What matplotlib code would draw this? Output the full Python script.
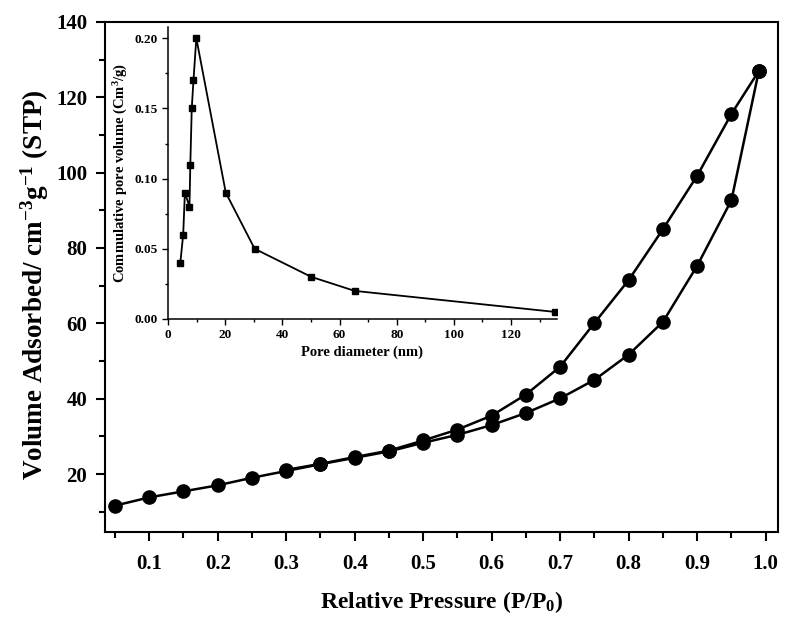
import matplotlib
matplotlib.use("Agg")
import matplotlib.pyplot as plt
from matplotlib.ticker import MultipleLocator

plt.rcParams["font.family"] = ["Liberation Serif", "DejaVu Serif"]
plt.rcParams["font.weight"] = "bold"
plt.rcParams["mathtext.fontset"] = "custom"
plt.rcParams["mathtext.rm"] = "Liberation Serif:bold"
plt.rcParams["mathtext.it"] = "Liberation Serif:bold"
plt.rcParams["mathtext.bf"] = "Liberation Serif:bold"

# isotherm: adsorption (lower) and desorption (upper) branches
p_ads = [0.05, 0.10, 0.15, 0.20, 0.25, 0.30, 0.35, 0.40, 0.45, 0.50,
         0.55, 0.60, 0.65, 0.70, 0.75, 0.80, 0.85, 0.90, 0.95, 0.99]
v_ads = [11.6, 13.8, 15.4, 17.0, 19.0, 20.8, 22.6, 24.3, 26.0, 28.3,
         30.4, 33.0, 36.2, 40.1, 45.0, 51.7, 60.4, 75.3, 92.7, 127.0]
p_des = [0.99, 0.95, 0.90, 0.85, 0.80, 0.75, 0.70, 0.65, 0.60, 0.55,
         0.50, 0.45, 0.40, 0.35, 0.30]
v_des = [127.0, 115.6, 99.2, 85.0, 71.5, 60.1, 48.5, 41.1, 35.5, 31.8,
         28.9, 26.2, 24.5, 22.7, 21.1]

# inset: pore volume vs pore diameter
pore_d = [4.3, 5.3, 5.9, 7.5, 7.8, 8.3, 8.9, 9.9, 20.2, 30.3, 50.1, 65.3, 135.5]
pore_v = [0.040, 0.060, 0.090, 0.080, 0.110, 0.150, 0.170, 0.200, 0.090,
          0.050, 0.030, 0.020, 0.005]

fig = plt.figure(figsize=(7.87, 6.19), dpi=100)
ax = fig.add_axes([0.133, 0.1405, 0.8556, 0.824])

ax.plot(p_ads, v_ads, color="black", lw=1.8, marker="o", ms=9.5)
ax.plot(p_des, v_des, color="black", lw=1.8, marker="o", ms=9.5)

ax.set_xlim(0.035, 1.018)
ax.set_ylim(4.6, 140)
ax.xaxis.set_minor_locator(MultipleLocator(0.05))
ax.yaxis.set_minor_locator(MultipleLocator(10))
ax.set_yticks([20, 40, 60, 80, 100, 120, 140])
ax.set_xticks([0.1, 0.2, 0.3, 0.4, 0.5, 0.6, 0.7, 0.8, 0.9, 1.0])
ax.set_xticklabels(["0.1", "0.2", "0.3", "0.4", "0.5", "0.6", "0.7", "0.8", "0.9", "1.0"])
ax.tick_params(which="major", direction="out", length=6.5, width=1.5, labelsize=15)
ax.tick_params(axis="x", which="major", pad=9)
ax.tick_params(axis="y", which="major", pad=6)
ax.tick_params(which="minor", direction="out", length=4, width=1.5)
for s in ax.spines.values():
    s.set_linewidth(1.5)

ax.set_xlabel(r"Relative Pressure (P/P$_0$)", fontsize=17, fontweight="bold", labelpad=11)
ax.set_ylabel(r"Volume Adsorbed/ cm$^{-3}$g$^{-1}$ (STP)", fontsize=19.5,
              fontweight="bold", labelpad=4)
ax.yaxis.label.set_y(0.485)

# inset
ins = fig.add_axes([0.2135, 0.4847, 0.494, 0.4717])
ins.plot(pore_d, pore_v, color="black", lw=1.3, marker="s", ms=5)
ins.set_xlim(0, 136)
ins.set_ylim(0, 0.208)
ins.xaxis.set_minor_locator(MultipleLocator(10))
ins.yaxis.set_minor_locator(MultipleLocator(0.025))
ins.set_xticks([0, 20, 40, 60, 80, 100, 120])
ins.set_yticks([0.0, 0.05, 0.10, 0.15, 0.20])
ins.set_yticklabels(["0.00", "0.05", "0.10", "0.15", "0.20"])
ins.tick_params(which="major", direction="out", length=4, width=1, labelsize=9.5)
ins.tick_params(which="minor", direction="out", length=2.5, width=1)
ins.spines["top"].set_visible(False)
ins.spines["right"].set_visible(False)
ins.spines["left"].set_linewidth(1.1)
ins.spines["bottom"].set_linewidth(1.1)
ins.patch.set_alpha(0)
ins.set_xlabel("Pore diameter (nm)", fontsize=10.5, fontweight="bold", labelpad=3)
ins.set_ylabel(r"Commulative pore volume (Cm$^3$/g)", fontsize=10.5,
               fontweight="bold", labelpad=3)

fig.savefig("out.png", dpi=100)
